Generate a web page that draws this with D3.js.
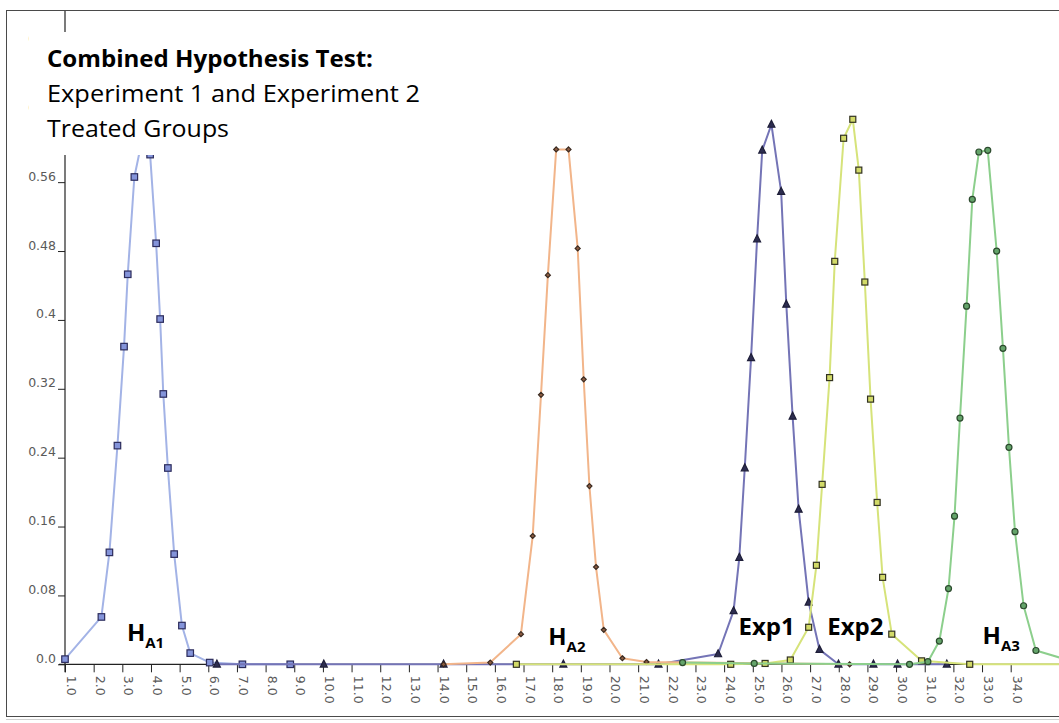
<!DOCTYPE html>
<html>
<head>
<meta charset="utf-8">
<script src="https://cdn.jsdelivr.net/npm/d3@7"></script>
<style>
  html, body { margin: 0; padding: 0; background: #fff; }
  svg { display: block; }
</style>
</head>
<body>
<svg id="chart" width="1059" height="723"></svg>
<script>
// ---------- data ----------
const xTickValues = [1,2,3,4,5,6,7,8,9,10,11,12,13,14,15,16,17,18,19,20,21,22,23,24,25,26,27,28,29,30,31,32,33,34];
const yTickValues = [0, 0.08, 0.16, 0.24, 0.32, 0.40, 0.48, 0.56, 0.64, 0.72];
const yTickLabels = ["0.0","0.08","0.16","0.24","0.32","0.4","0.48","0.56","0.64","0.72"];

const titleLines = ["Combined Hypothesis Test:", "Experiment 1 and Experiment 2", "Treated Groups"];

const hA1X = [1.0, 2.27, 2.55, 2.83, 3.06, 3.19, 3.42, 3.79, 3.97, 4.18, 4.32, 4.43, 4.59, 4.81, 5.08, 5.37, 6.05, 7.19, 8.86];
const hA1Y = [0.006, 0.055, 0.130, 0.254, 0.369, 0.453, 0.566, 0.625, 0.592, 0.489, 0.401, 0.314, 0.228, 0.128, 0.045, 0.013, 0.002, 0, 0];

const hA2X = [14.21, 15.84, 16.91, 17.32, 17.61, 17.85, 18.14, 18.57, 18.89, 19.10, 19.30, 19.53, 19.80, 20.45, 21.29, 28.38];
const hA2Y = [0, 0.002, 0.035, 0.149, 0.313, 0.452, 0.598, 0.598, 0.483, 0.331, 0.207, 0.113, 0.040, 0.007, 0.0027, 0];

const exp1X = [6.3, 10.03, 14.21, 18.39, 21.71, 23.79, 24.33, 24.53, 24.72, 24.94, 25.15, 25.33, 25.65, 25.99, 26.17, 26.39, 26.60, 26.95, 27.33, 27.99, 29.21, 30.05, 31.77];
const exp1Y = [0, 0, 0, 0, 0, 0.012, 0.062, 0.124, 0.228, 0.356, 0.494, 0.597, 0.627, 0.549, 0.418, 0.288, 0.180, 0.072, 0.017, 0, 0, 0, 0];

const exp2X = [16.75, 24.23, 25.43, 26.31, 26.95, 27.22, 27.42, 27.68, 27.86, 28.17, 28.49, 28.70, 28.91, 29.11, 29.34, 29.53, 29.85, 30.89, 32.57, 36];
const exp2Y = [0, 0, 0.001, 0.005, 0.043, 0.115, 0.209, 0.333, 0.468, 0.611, 0.633, 0.574, 0.444, 0.308, 0.188, 0.101, 0.035, 0.004, 0, 0];

const hA3X = [22.55, 25.05, 30.47, 31.11, 31.51, 31.83, 32.04, 32.23, 32.46, 32.66, 32.89, 33.20, 33.51, 33.73, 33.94, 34.15, 34.45, 34.88, 36];
const hA3Y = [0.002, 0.001, 0, 0.003, 0.027, 0.088, 0.172, 0.286, 0.416, 0.540, 0.595, 0.597, 0.480, 0.367, 0.252, 0.154, 0.068, 0.016, 0.005];

// label anchors (data coordinates)
const curveLabels = [
  { main: "H", sub: "A1", x: 3.16, y: 0.027 },
  { main: "H", sub: "A2", x: 17.86, y: 0.022 },
  { main: "Exp1", sub: "", x: 24.5, y: 0.034 },
  { main: "Exp2", sub: "", x: 27.6, y: 0.034 },
  { main: "H", sub: "A3", x: 33.02, y: 0.024 }
];

// ---------- drawing ----------
const W = 1059, H = 723;
const svg = d3.select("#chart");

const x = d3.scaleLinear().domain([1, 34]).range([65, 1010.7]);
const y = d3.scaleLinear().domain([0, 0.72]).range([664.3, 44.4]);

// frame
svg.append("rect").attr("x", 6.5).attr("y", 10.5).attr("width", W + 10).attr("height", 706)
  .attr("fill", "#fff").attr("stroke", "#4a4a4a").attr("stroke-width", 1);
svg.append("line").attr("x1", 6).attr("x2", W).attr("y1", 719.5).attr("y2", 719.5)
  .attr("stroke", "#d0d0d0").attr("stroke-width", 1);

svg.append("defs").append("clipPath").attr("id", "plotclip")
  .append("rect").attr("x", 7).attr("y", 11).attr("width", W - 7).attr("height", 704);

// y axis
const yAxis = d3.axisLeft(y).tickValues(yTickValues).tickSize(7).tickFormat((d, i) => yTickLabels[i]);
const gy = svg.append("g").attr("transform", `translate(${x(1)},0)`).call(yAxis);
gy.select(".domain").remove();
gy.selectAll(".tick line").attr("stroke", "#222");
gy.selectAll(".tick text")
  .attr("x", -9).attr("dy", null).attr("y", -2)
  .style("font-family", "DejaVu Sans, sans-serif").style("font-size", "12.5px").attr("fill", "#5a5a5a");
svg.append("line").attr("x1", x(1)).attr("x2", x(1)).attr("y1", 11).attr("y2", y(0) + 8)
  .attr("stroke", "#222").attr("stroke-width", 1.2);

// x axis
const xAxis = d3.axisBottom(x).tickValues(xTickValues).tickSize(8).tickFormat(d => d.toFixed(1));
const gx = svg.append("g").attr("transform", `translate(0,${y(0)})`).call(xAxis);
gx.select(".domain").remove();
gx.selectAll(".tick line").attr("stroke", "#222");
gx.selectAll(".tick text")
  .attr("x", 0).attr("y", 0).attr("dy", null)
  .attr("transform", "translate(1.5,11.5) rotate(90)")
  .style("text-anchor", "start")
  .style("font-family", "DejaVu Sans, sans-serif").style("font-size", "12.5px").attr("fill", "#5a5a5a");
svg.append("line").attr("x1", x(1) - 6).attr("x2", W).attr("y1", y(0)).attr("y2", y(0))
  .attr("stroke", "#222").attr("stroke-width", 1.2);

// series
const plot = svg.append("g").attr("clip-path", "url(#plotclip)");
const line = d3.line().x(d => x(d[0])).y(d => y(d[1]));

const series = [
  { xs: hA1X, ys: hA1Y, line: "#a3b3e6", fill: "#8494da", stroke: "#2c2c5c", shape: "square", size: 6.5 },
  { xs: exp1X, ys: exp1Y, line: "#7474b6", fill: "#2d2d50", stroke: "#1e1e38", shape: "triangle", size: 7 },
  { xs: hA2X, ys: hA2Y, line: "#f2b58a", fill: "#8c5c42", stroke: "#3a2a20", shape: "diamond", size: 5 },
  { xs: exp2X, ys: exp2Y, line: "#d6e37a", fill: "#d2da68", stroke: "#333322", shape: "square", size: 6 },
  { xs: hA3X, ys: hA3Y, line: "#8ccf8c", fill: "#64a46a", stroke: "#2c4a2e", shape: "circle", size: 3 }
];

series.forEach(s => {
  const pts = s.xs.map((v, i) => [v, s.ys[i]]);
  plot.append("path").datum(pts).attr("d", line)
    .attr("fill", "none").attr("stroke", s.line).attr("stroke-width", 2).attr("stroke-linejoin", "round");
  const g = plot.append("g");
  pts.forEach(p => {
    const cx = x(p[0]), cy = y(p[1]);
    let m;
    if (s.shape === "square") {
      m = g.append("rect").attr("x", cx - s.size / 2).attr("y", cy - s.size / 2)
        .attr("width", s.size).attr("height", s.size);
    } else if (s.shape === "circle") {
      m = g.append("circle").attr("cx", cx).attr("cy", cy).attr("r", s.size);
    } else if (s.shape === "triangle") {
      const h = s.size;
      m = g.append("path").attr("d", `M${cx},${cy - h * 0.6}L${cx + h / 2},${cy + h * 0.4}L${cx - h / 2},${cy + h * 0.4}Z`);
    } else {
      const h = s.size;
      m = g.append("path").attr("d", `M${cx},${cy - h / 2}L${cx + h / 2},${cy}L${cx},${cy + h / 2}L${cx - h / 2},${cy}Z`);
    }
    m.attr("fill", s.fill).attr("stroke", s.stroke).attr("stroke-width", 1.2);
  });
});

// curve labels
curveLabels.forEach(l => {
  const t = svg.append("text").attr("x", x(l.x)).attr("y", y(l.y))
    .style("font-family", "'Open Sans', sans-serif").style("font-weight", "700")
    .style("font-size", "24px").attr("fill", "#000");
  t.append("tspan").text(l.main);
  if (l.sub) t.append("tspan").attr("dy", 7).style("font-size", "15px").text(l.sub);
});

// title box (covers top of axis)
svg.append("rect").attr("x", 29).attr("y", 32).attr("width", 410).attr("height", 123).attr("fill", "#fff");
const tl = [
  { txt: titleLines[0], bold: true, y: 67, len: 326 },
  { txt: titleLines[1], bold: false, y: 102, len: 373 },
  { txt: titleLines[2], bold: false, y: 137, len: 182 }
];
tl.forEach(t => {
  svg.append("text").attr("x", 47).attr("y", t.y).text(t.txt)
    .attr("textLength", t.len).attr("lengthAdjust", "spacingAndGlyphs")
    .style("font-family", "'Open Sans', sans-serif").style("font-weight", t.bold ? "700" : "400")
    .style("font-size", "24px").attr("fill", "#000");
});
</script>
</body>
</html>
